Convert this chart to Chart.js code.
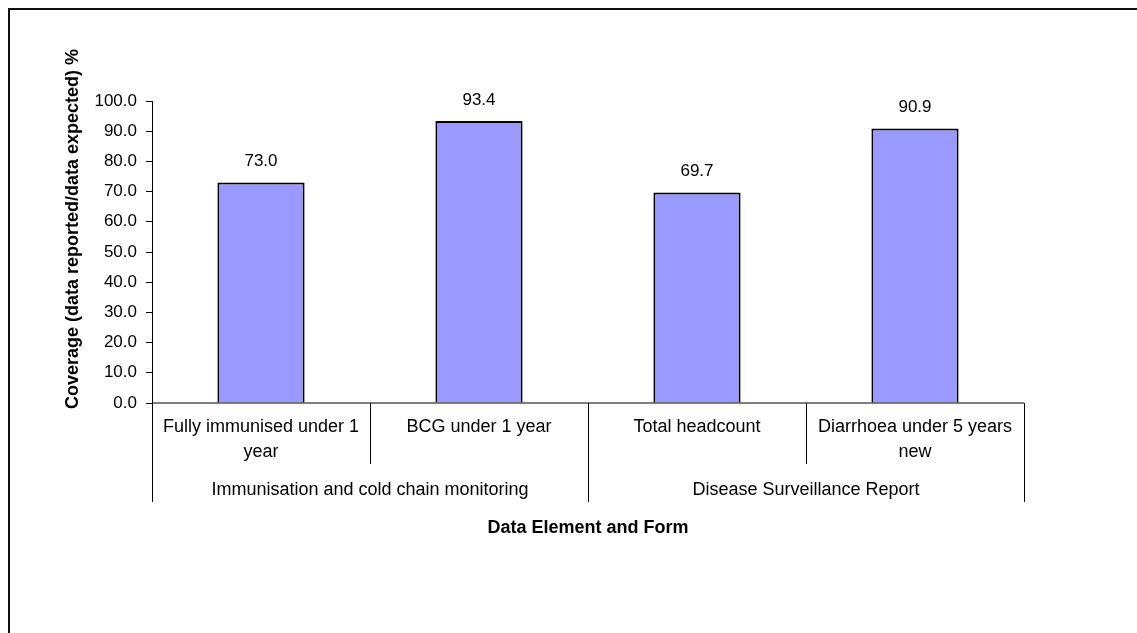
<!DOCTYPE html>
<html>
<head>
<meta charset="utf-8">
<title>Coverage by data element</title>
<script src="https://cdn.jsdelivr.net/npm/chart.js@4.4.1/dist/chart.umd.min.js"></script>
<style>
    html, body { margin: 0; padding: 0; background: #fff; }
    #myChart { display: block; }
</style>
</head>
<body>
<canvas id="myChart" width="1137" height="633"></canvas>
<script>
// Chart data
const categories = [
    ['Fully immunised under 1', 'year'],
    ['BCG under 1 year'],
    ['Total headcount'],
    ['Diarrhoea under 5 years', 'new'],
];
const groups = ['Immunisation and cold chain monitoring', 'Disease Surveillance Report'];
const groupSizes = [2, 2];
const coverage = [73.0, 93.4, 69.7, 90.9];

const yTitle = 'Coverage (data reported/data expected) %';
const xTitle = 'Data Element and Form';

const fontFamily = '"Liberation Sans", Arial, sans-serif';

document.addEventListener('DOMContentLoaded', function () {
    // Draws frame, x axis with two label levels, value labels and axis titles
    const extrasPlugin = {
        id: 'extras',
        afterDraw(chart) {
            const ctx = chart.ctx;
            const area = chart.chartArea;
            const xScale = chart.scales.x;
            const meta = chart.getDatasetMeta(0);

            ctx.save();

            // outer frame (only top and left edges visible)
            ctx.strokeStyle = '#111';
            ctx.lineWidth = 2;
            ctx.beginPath();
            ctx.moveTo(9, 700);
            ctx.lineTo(9, 9);
            ctx.lineTo(1200, 9);
            ctx.stroke();

            // x axis line
            ctx.strokeStyle = '#000';
            ctx.lineWidth = 1;
            ctx.beginPath();
            ctx.moveTo(area.left, area.bottom);
            ctx.lineTo(area.right, area.bottom);
            ctx.stroke();

            // category boundaries
            const bounds = [area.left];
            for (let i = 1; i < categories.length; i++) {
                bounds.push(Math.round((xScale.getPixelForValue(i - 1) + xScale.getPixelForValue(i)) / 2));
            }
            bounds.push(area.right);

            const groupStarts = [0];
            groupSizes.forEach(n => groupStarts.push(groupStarts[groupStarts.length - 1] + n));

            bounds.forEach((bx, i) => {
                const isGroupEdge = groupStarts.includes(i);
                const x = Math.round(bx) + 0.5;
                ctx.beginPath();
                ctx.moveTo(x, area.bottom);
                ctx.lineTo(x, isGroupEdge ? area.bottom + 99 : area.bottom + 61);
                ctx.stroke();
            });

            ctx.fillStyle = '#000';
            ctx.textAlign = 'center';
            ctx.textBaseline = 'middle';

            // category labels
            ctx.font = '18px ' + fontFamily;
            categories.forEach((lines, i) => {
                const cx = (bounds[i] + bounds[i + 1]) / 2;
                lines.forEach((line, j) => {
                    ctx.fillText(line, cx, area.bottom + 24 + j * 25);
                });
            });

            // group labels
            groups.forEach((g, k) => {
                const cx = (bounds[groupStarts[k]] + bounds[groupStarts[k + 1]]) / 2;
                ctx.fillText(g, cx, area.bottom + 87);
            });

            // value labels above bars
            ctx.font = '17px ' + fontFamily;
            meta.data.forEach((bar, i) => {
                ctx.fillText(coverage[i].toFixed(1), bar.x, bar.y - 21);
            });

            // axis titles
            ctx.font = 'bold 18px ' + fontFamily;
            ctx.fillText(xTitle, (area.left + area.right) / 2, area.bottom + 125);

            ctx.translate(73, 229);
            ctx.rotate(-Math.PI / 2);
            ctx.fillText(yTitle, 0, 0);

            ctx.restore();
        }
    };

    // Chart configuration
    const chartConfig = {
        type: 'bar',
        data: {
            labels: categories.map(c => c.join(' ')),
            datasets: [{
                label: 'Coverage',
                data: coverage,
                backgroundColor: '#9999ff',
                borderColor: '#000',
                borderWidth: 2,
                barPercentage: 0.4,
                categoryPercentage: 1.0,
            }],
        },
        options: {
            responsive: false,
            devicePixelRatio: 1,
            animation: false,
            layout: {
                padding: { top: 101, right: 113, bottom: 230, left: 0 },
            },
            plugins: {
                legend: { display: false },
                tooltip: { enabled: false },
            },
            scales: {
                x: {
                    display: false,
                },
                y: {
                    min: 0,
                    max: 100,
                    afterFit: scale => { scale.width = 152; },
                    ticks: {
                        stepSize: 10,
                        padding: 9,
                        color: '#000',
                        font: { family: fontFamily, size: 17 },
                        callback: v => v.toFixed(1),
                    },
                    grid: {
                        drawOnChartArea: false,
                        drawTicks: true,
                        tickLength: 6,
                        color: '#000',
                    },
                    border: { display: true, color: '#000', width: 1 },
                },
            },
        },
        plugins: [extrasPlugin],
    };

    const ctx = document.getElementById('myChart').getContext('2d');
    new Chart(ctx, chartConfig);
});
</script>
</body>
</html>
